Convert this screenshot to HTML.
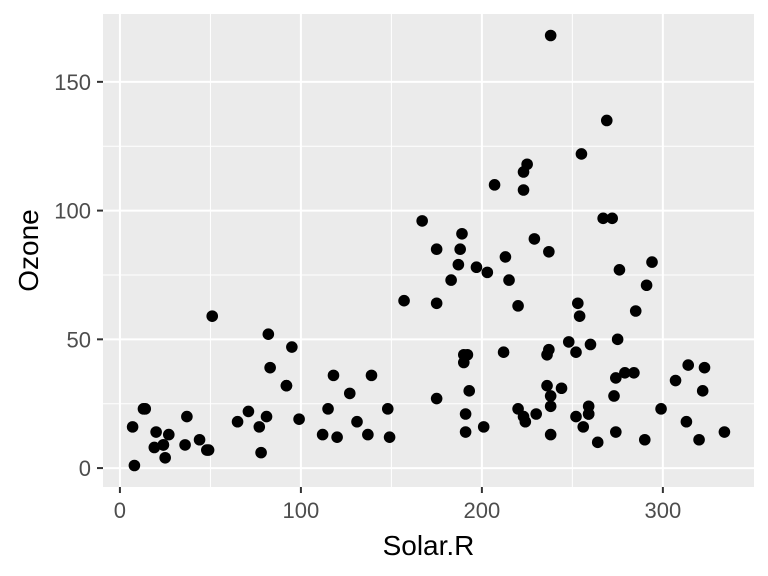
<!DOCTYPE html>
<html><head><meta charset="utf-8"><style>
html,body{margin:0;padding:0;background:#fff;}
svg{display:block;font-family:"Liberation Sans",sans-serif;}
</style></head><body>
<svg id="chart" width="768" height="576" viewBox="0 0 768 576"></svg>
<script>
const solarR = [190,118,149,313,299,99,19,256,290,274,65,334,307,78,322,44,8,320,25,92,13,252,223,279,127,291,323,148,191,284,37,120,137,269,248,236,175,314,276,267,272,175,264,175,48,260,274,285,187,220,7,294,223,81,82,213,275,253,254,83,24,77,255,229,207,192,273,157,71,51,115,244,190,259,36,212,238,215,203,225,237,188,167,197,183,189,95,92,252,220,230,259,236,259,238,24,112,237,224,27,238,201,238,14,139,49,20,193,191,131,223];
const ozone = [41,36,12,18,23,19,8,16,11,14,18,14,34,6,30,11,1,11,4,32,23,45,115,37,29,71,39,23,21,37,20,12,13,135,49,32,64,40,77,97,97,85,10,27,7,48,35,61,79,63,16,80,108,20,52,82,50,64,59,39,9,16,122,89,110,44,28,65,22,59,23,31,44,21,9,45,168,73,76,118,84,85,96,78,73,91,47,32,20,23,21,24,44,21,28,9,13,46,18,13,24,16,13,23,36,7,14,30,14,18,20];
const xTicks = [0,100,200,300];
const yTicks = [0,50,100,150];

const svg = document.getElementById('chart');
const NS = 'http://www.w3.org/2000/svg';
const L=103,R=754,T=14,B=487;
const xmin=-9.35,xmax=350.35,ymin=-7.35,ymax=176.35;
const sx=v=>L+(v-xmin)/(xmax-xmin)*(R-L);
const sy=v=>B-(v-ymin)/(ymax-ymin)*(B-T);
function mk(tag,attrs,parent){const e=document.createElementNS(NS,tag);for(const k in attrs)e.setAttribute(k,attrs[k]);(parent||svg).appendChild(e);return e;}

const panel=mk('rect',{x:L,y:T,width:R-L,height:B-T,fill:'#ebebeb'});



const grid=mk('g',{});


for(let i=0;i<xTicks.length-1;i++){const v=(xTicks[i]+xTicks[i+1])/2;mk('line',{x1:sx(v),x2:sx(v),y1:T,y2:B,stroke:'#fff','stroke-width':1},grid);}
for(let i=0;i<yTicks.length-1;i++){const v=(yTicks[i]+yTicks[i+1])/2;mk('line',{y1:sy(v),y2:sy(v),x1:L,x2:R,stroke:'#fff','stroke-width':1},grid);}
xTicks.forEach(v=>mk('line',{x1:sx(v),x2:sx(v),y1:T,y2:B,stroke:'#fff','stroke-width':2},grid));
yTicks.forEach(v=>mk('line',{y1:sy(v),y2:sy(v),x1:L,x2:R,stroke:'#fff','stroke-width':2},grid));

const xa=mk('g',{});


xTicks.forEach(v=>{
  mk('line',{x1:sx(v),x2:sx(v),y1:B,y2:B+6,stroke:'#333','stroke-width':2},xa);
  const t=mk('text',{x:sx(v),y:518,'text-anchor':'middle','font-size':22,fill:'#4d4d4d'},xa);
  t.textContent=v;
  
  
});
const ya=mk('g',{});


yTicks.forEach(v=>{
  mk('line',{x1:L-6,x2:L,y1:sy(v),y2:sy(v),stroke:'#333','stroke-width':2},ya);
  const t=mk('text',{x:91,y:sy(v)+8,'text-anchor':'end','font-size':22,fill:'#4d4d4d'},ya);
  t.textContent=v;
  
  
});

const pts=mk('g',{});


solarR.forEach((x,i)=>{
  const c=mk('circle',{cx:sx(x),cy:sy(ozone[i]),r:5.8,fill:'#000'},pts);
  
  
});

const xt=mk('text',{x:(L+R)/2,y:555,'text-anchor':'middle','font-size':28,fill:'#000'});
xt.textContent='Solar.R';


const yt=mk('text',{x:0,y:0,'text-anchor':'middle','font-size':28,fill:'#000',transform:`translate(38,${(T+B)/2}) rotate(-90)`});
yt.textContent='Ozone';


</script>
</body></html>
